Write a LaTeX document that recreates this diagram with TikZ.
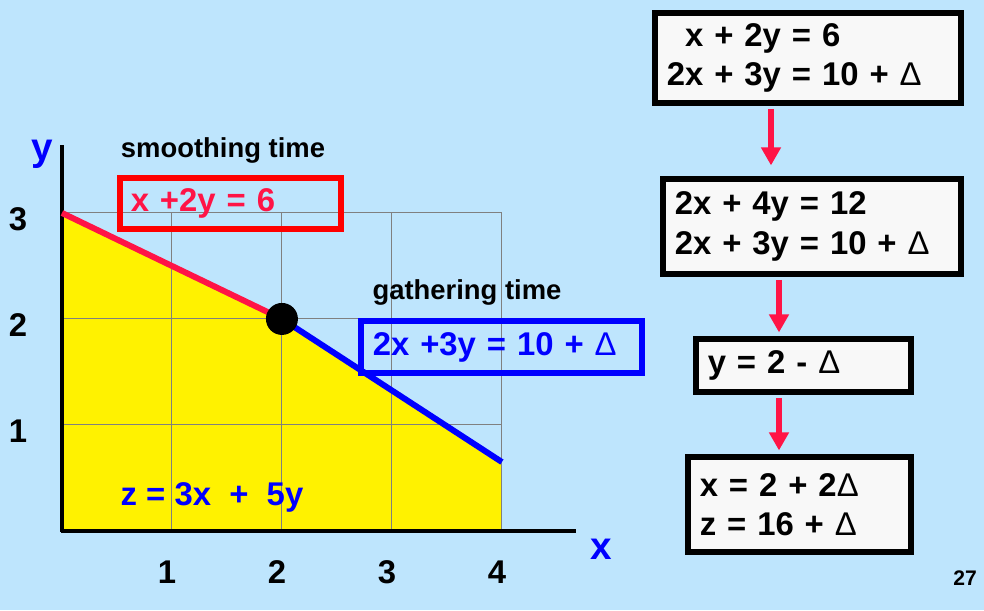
\documentclass[tikz,border=0pt]{standalone}
\usepackage{fontspec}
\setmainfont{Liberation Sans}
\usetikzlibrary{arrows.meta,positioning,calc}

\definecolor{slidebg}{RGB}{190,229,253}
\definecolor{crimson}{RGB}{255,20,70}
\definecolor{boxfill}{RGB}{248,248,248}
\definecolor{gridgray}{RGB}{128,128,128}

\newcommand{\eqsize}{\fontsize{18.7}{22.4}\selectfont\bfseries}
\newcommand{\lblsize}{\fontsize{15.6}{18}\selectfont\bfseries}
\newcommand{\axsize}{\fontsize{22}{26}\selectfont\bfseries}
\newcommand{\dlt}{{\mdseries Δ}}

\tikzset{
  stepbox/.style={draw=black, line width=3.2pt, fill=boxfill, inner xsep=0.24cm,
    inner ysep=0pt, align=left, font=\eqsize},
  tagbox/.style={line width=3.2pt, inner xsep=0.22cm, inner ysep=0pt, align=left, font=\eqsize},
  flow/.style={crimson, line width=3.1pt, -{Triangle[width=0.38cm,length=0.36cm]}},
  gridline/.style={gridgray, line width=0.6pt},
  axisline/.style={black, line width=2.4pt},
  ticklbl/.style={font=\eqsize},
}

\begin{document}
\begin{tikzpicture}[x=0.02cm, y=-0.02cm]
  \fill[slidebg] (0,0) rectangle (984,610);
  \useasboundingbox (0,0) rectangle (984,610);

  % the graph
  \begin{scope}[shift={(1.24cm,-10.62cm)}, x=2.2cm, y=2.12cm]
    \fill[yellow] (0,0) -- (0,3) -- (2,2) -- (4,0.65) -- (4,0) -- cycle;
    \foreach \i in {1,...,4}
      \draw[gridline] (\i,0) -- (\i,3);
    \foreach \j in {1,2,3}
      \draw[gridline] (0,\j) -- (4,\j);
    \draw[axisline] (0,-0.01) -- (0,3.64);
    \draw[axisline] (-0.01,0) -- (4.67,0);
    \draw[crimson, line width=3.4pt] (0,3) -- (2,2);
    \draw[blue, line width=3.4pt] (2,2) -- (4,0.65);
    \fill (2,2) circle (0.32cm);
    \foreach \i in {1,...,4}
      \node[ticklbl] (xt\i) at (\i-0.045,-0.39) {\i};
    \foreach \j in {1,2,3}
      \node[ticklbl] (yt\j) at (-0.4,\j-0.06) {\j};
    \node[font=\axsize, text=blue] (ylbl) at (-0.18,3.55) {y};
    \node[font=\axsize, text=blue] (xlbl) at (4.9,-0.17) {x};
  \end{scope}

  % labels on the graph
  \node[font=\lblsize] (smooth) at (223,150) {smoothing time};
  \node[tagbox, draw=red, text=crimson, text width=3.99cm, minimum height=1.03cm]
    (redeq) at (230.5,203.5) {x +2y = 6};
  \node[font=\lblsize] (gather) at (467,292) {gathering time};
  \node[tagbox, draw=blue, text=blue, inner xsep=0.24cm, text width=5.15cm, minimum height=1.05cm]
    (blueeq) at (501.5,347) {2x +3y = 10 + \dlt};
  \node[font=\eqsize, text=blue] (zeq) at (212,497) {z = 3x~ + ~5y};

  % steps on the right
  \node[stepbox, text width=5.65cm, minimum height=1.81cm] (sys1) at (808,58)
    {\begin{tabular}{@{}r@{\ =\ }l@{}}x + 2y & 6\\2x + 3y & 10 + \dlt\end{tabular}};
  \node[stepbox, text width=5.49cm, minimum height=1.91cm] (sys2) at (812,226.5)
    {2x + 4y = 12\\2x + 3y = 10 + \dlt};
  \node[stepbox, text width=3.83cm, minimum height=1.07cm] (sys3) at (803.5,365.5)
    {y = 2 - \dlt};
  \node[stepbox, text width=3.99cm, minimum height=1.91cm] (sys4) at (799.5,504.5)
    {x = 2 + 2\dlt\\z = 16 + \dlt};

  \coordinate (a1) at (771,0);
  \coordinate (a2) at (779,0);
  \draw[flow, shorten <=1.6pt, shorten >=6pt] (sys1.south -| a1) -- (sys2.north -| a1);
  \draw[flow, shorten <=1.6pt, shorten >=2pt] (sys2.south -| a2) -- (sys3.north -| a2);
  \draw[flow, shorten <=1.6pt, shorten >=2pt] (sys3.south -| a2) -- (sys4.north -| a2);

  \node[font=\fontsize{12}{14}\selectfont\bfseries] (pgno) at (965,578) {27};
\end{tikzpicture}
\end{document}
